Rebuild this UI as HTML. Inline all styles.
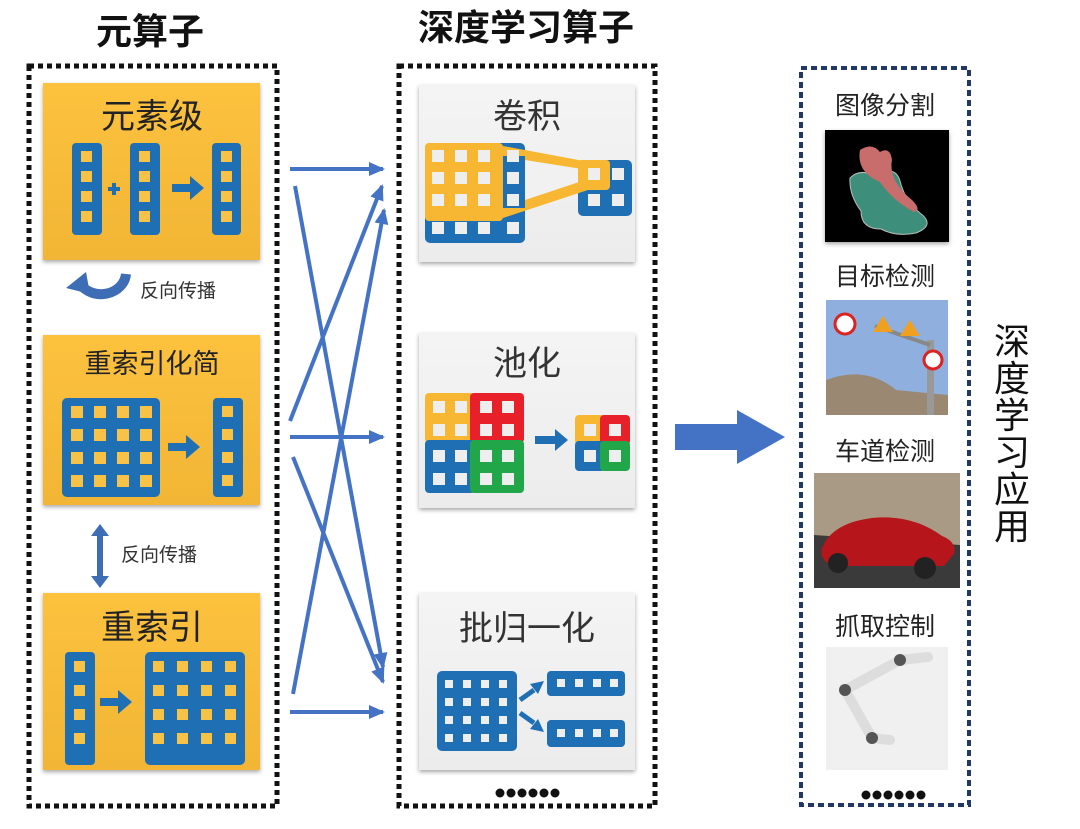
<!DOCTYPE html>
<html><head><meta charset="utf-8"><style>
html,body{margin:0;padding:0;background:#fff;}
svg{display:block;font-family:"Liberation Sans","Noto Sans CJK SC",sans-serif;}
</style></head><body>
<svg width="1080" height="829" viewBox="0 0 1080 829" xmlns="http://www.w3.org/2000/svg">
<defs>
<linearGradient id="gy" x1="0" y1="0" x2="0" y2="1"><stop offset="0" stop-color="#fcc23e"/><stop offset="1" stop-color="#f2b535"/></linearGradient>
<linearGradient id="gg" x1="0" y1="0" x2="0" y2="1"><stop offset="0" stop-color="#f4f4f4"/><stop offset="1" stop-color="#ececec"/></linearGradient>
<marker id="ah" markerWidth="16" markerHeight="14" refX="14" refY="7" orient="auto" markerUnits="userSpaceOnUse"><path d="M0,0 L16,7 L0,14 z" fill="#4472c4"/></marker>
<filter id="sh" x="-5%" y="-5%" width="110%" height="115%"><feDropShadow dx="0" dy="2" stdDeviation="2" flood-color="#000" flood-opacity="0.35"/></filter>
</defs>

<text x="150" y="44" font-size="36" font-weight="bold" text-anchor="middle" fill="#111">元算子</text>
<text x="526" y="40" font-size="36" font-weight="bold" text-anchor="middle" fill="#111">深度学习算子</text>

<rect x="29" y="66" width="248" height="740" fill="none" stroke="#111" stroke-width="5" stroke-dasharray="5 4"/>
<rect x="399" y="66" width="256" height="740" fill="none" stroke="#111" stroke-width="5" stroke-dasharray="5 4"/>
<rect x="801" y="68" width="168" height="737" fill="none" stroke="#1f3864" stroke-width="4" stroke-dasharray="6 4"/>

<g filter="url(#sh)">
<rect x="43" y="83" width="217" height="177" fill="url(#gy)"/>
<rect x="43" y="335" width="217" height="170" fill="url(#gy)"/>
<rect x="43" y="593" width="217" height="177" fill="url(#gy)"/>
</g>
<text x="152" y="128" font-size="34" text-anchor="middle" fill="#222">元素级</text>
<g fill="#1f6fb5">
<rect x="72" y="143" width="30" height="92" rx="4"/>
<rect x="130" y="143" width="30" height="92" rx="4"/>
<rect x="212" y="143" width="29" height="92" rx="4"/>
</g>
<g fill="#f7c245">
<rect x="81" y="151" width="11" height="11"/><rect x="81" y="171" width="11" height="11"/><rect x="81" y="191" width="11" height="11"/><rect x="81" y="211" width="11" height="11"/>
<rect x="139" y="151" width="11" height="11"/><rect x="139" y="171" width="11" height="11"/><rect x="139" y="191" width="11" height="11"/><rect x="139" y="211" width="11" height="11"/>
<rect x="221" y="151" width="11" height="11"/><rect x="221" y="171" width="11" height="11"/><rect x="221" y="191" width="11" height="11"/><rect x="221" y="211" width="11" height="11"/>
</g>
<path d="M108,189 h12 M114,183 v12" stroke="#1f6fb5" stroke-width="4"/>
<path d="M172,184 h18 v-8 l14,12 l-14,12 v-8 h-18 z" fill="#1f6fb5"/>

<path d="M80,284 A25,22 0 0 0 126,274" fill="none" stroke="#3d6db5" stroke-width="10"/>
<path d="M66,288 L86,272 L90,294 Z" fill="#3d6db5"/>
<text x="140" y="297" font-size="19" fill="#333">反向传播</text>

<text x="152" y="373" font-size="27" text-anchor="middle" fill="#222">重索引化简</text>
<rect x="62" y="398" width="98" height="99" rx="5" fill="#1f6fb5"/>
<g fill="#f7c245">
<rect x="71" y="406" width="12" height="12"/><rect x="94" y="406" width="12" height="12"/><rect x="117" y="406" width="12" height="12"/><rect x="140" y="406" width="12" height="12"/>
<rect x="71" y="429" width="12" height="12"/><rect x="94" y="429" width="12" height="12"/><rect x="117" y="429" width="12" height="12"/><rect x="140" y="429" width="12" height="12"/>
<rect x="71" y="452" width="12" height="12"/><rect x="94" y="452" width="12" height="12"/><rect x="117" y="452" width="12" height="12"/><rect x="140" y="452" width="12" height="12"/>
<rect x="71" y="475" width="12" height="12"/><rect x="94" y="475" width="12" height="12"/><rect x="117" y="475" width="12" height="12"/><rect x="140" y="475" width="12" height="12"/>
</g>
<path d="M168,443 h18 v-8 l14,12 l-14,12 v-8 h-18 z" fill="#1f6fb5"/>
<rect x="213" y="398" width="30" height="99" rx="4" fill="#1f6fb5"/>
<g fill="#f7c245"><rect x="222" y="406" width="11" height="11"/><rect x="222" y="429" width="11" height="11"/><rect x="222" y="452" width="11" height="11"/><rect x="222" y="475" width="11" height="11"/></g>

<path d="M100,524 l-9,12 h6 v40 h-6 l9,12 l9,-12 h-6 v-40 h6 z" fill="#3d6db5"/>
<text x="121" y="561" font-size="19" fill="#333">反向传播</text>

<text x="152" y="639" font-size="34" text-anchor="middle" fill="#222">重索引</text>
<rect x="65" y="652" width="30" height="113" rx="4" fill="#1f6fb5"/>
<g fill="#f7c245"><rect x="74" y="661" width="11" height="11"/><rect x="74" y="685" width="11" height="11"/><rect x="74" y="709" width="11" height="11"/><rect x="74" y="733" width="11" height="11"/></g>
<path d="M100,698 h18 v-8 l14,12 l-14,12 v-8 h-18 z" fill="#1f6fb5"/>
<rect x="145" y="652" width="100" height="113" rx="5" fill="#1f6fb5"/>
<g fill="#f7c245">
<rect x="153" y="661" width="11" height="11"/><rect x="177" y="661" width="11" height="11"/><rect x="201" y="661" width="11" height="11"/><rect x="225" y="661" width="11" height="11"/>
<rect x="153" y="685" width="11" height="11"/><rect x="177" y="685" width="11" height="11"/><rect x="201" y="685" width="11" height="11"/><rect x="225" y="685" width="11" height="11"/>
<rect x="153" y="709" width="11" height="11"/><rect x="177" y="709" width="11" height="11"/><rect x="201" y="709" width="11" height="11"/><rect x="225" y="709" width="11" height="11"/>
<rect x="153" y="733" width="11" height="11"/><rect x="177" y="733" width="11" height="11"/><rect x="201" y="733" width="11" height="11"/><rect x="225" y="733" width="11" height="11"/>
</g>

<g stroke="#4472c4" stroke-width="4" fill="none" marker-end="url(#ah)">
<line x1="290" y1="169" x2="383" y2="169"/>
<line x1="295" y1="186" x2="383" y2="667"/>
<line x1="290" y1="421" x2="382" y2="186"/>
<line x1="290" y1="437" x2="383" y2="437"/>
<line x1="293" y1="457" x2="383" y2="682"/>
<line x1="293" y1="694" x2="384" y2="210"/>
<line x1="290" y1="712" x2="383" y2="712"/>
</g>

<g filter="url(#sh)">
<rect x="419" y="85" width="216" height="177" fill="url(#gg)"/>
<rect x="419" y="333" width="216" height="175" fill="url(#gg)"/>
<rect x="419" y="593" width="216" height="177" fill="url(#gg)"/>
</g>
<text x="527" y="128" font-size="34" text-anchor="middle" fill="#333">卷积</text>
<rect x="425" y="143" width="100" height="100" rx="5" fill="#1f6fb5"/>
<rect x="578" y="160" width="54" height="56" rx="5" fill="#1f6fb5"/>
<polygon points="503,146 600,164 600,186 503,218" fill="#f7b733"/>
<polygon points="525,160 582,169 582,181 525,200" fill="#f1f1f1"/>
<rect x="503" y="156" width="22" height="52" fill="#1f6fb5"/>
<rect x="578" y="160" width="32" height="30" rx="4" fill="#f7b733"/>
<rect x="425" y="143" width="78" height="78" rx="4" fill="#f7b733"/>
<g fill="#eee">
<rect x="432" y="150" width="12" height="12"/><rect x="455" y="150" width="12" height="12"/><rect x="478" y="150" width="12" height="12"/><rect x="507" y="150" width="12" height="12"/>
<rect x="432" y="172" width="12" height="12"/><rect x="455" y="172" width="12" height="12"/><rect x="478" y="172" width="12" height="12"/><rect x="507" y="172" width="12" height="12"/>
<rect x="432" y="194" width="12" height="12"/><rect x="455" y="194" width="12" height="12"/><rect x="478" y="194" width="12" height="12"/><rect x="507" y="194" width="12" height="12"/>
<rect x="432" y="222" width="12" height="12"/><rect x="455" y="222" width="12" height="12"/><rect x="478" y="222" width="12" height="12"/><rect x="507" y="222" width="12" height="12"/>
<rect x="588" y="168" width="12" height="12"/><rect x="612" y="168" width="12" height="12"/><rect x="588" y="194" width="12" height="12"/><rect x="612" y="194" width="12" height="12"/>
</g>

<text x="527" y="375" font-size="34" text-anchor="middle" fill="#333">池化</text>
<rect x="425" y="393" width="50" height="50" rx="4" fill="#f7b733"/>
<rect x="470" y="393" width="54" height="50" rx="4" fill="#e8202a"/>
<rect x="425" y="440" width="50" height="53" rx="4" fill="#1f6fb5"/>
<rect x="470" y="440" width="54" height="53" rx="4" fill="#21a64a"/>
<g fill="#eee">
<rect x="433" y="401" width="12" height="12"/><rect x="455" y="401" width="12" height="12"/><rect x="480" y="401" width="12" height="12"/><rect x="502" y="401" width="12" height="12"/>
<rect x="433" y="424" width="12" height="12"/><rect x="455" y="424" width="12" height="12"/><rect x="480" y="424" width="12" height="12"/><rect x="502" y="424" width="12" height="12"/>
<rect x="433" y="450" width="12" height="12"/><rect x="455" y="450" width="12" height="12"/><rect x="480" y="450" width="12" height="12"/><rect x="502" y="450" width="12" height="12"/>
<rect x="433" y="473" width="12" height="12"/><rect x="455" y="473" width="12" height="12"/><rect x="480" y="473" width="12" height="12"/><rect x="502" y="473" width="12" height="12"/>
</g>
<path d="M535,436 h20 v-7 l13,11 l-13,11 v-7 h-20 z" fill="#1f6fb5"/>
<rect x="575" y="415" width="30" height="30" rx="4" fill="#f7b733"/>
<rect x="600" y="415" width="30" height="30" rx="4" fill="#e8202a"/>
<rect x="575" y="441" width="30" height="30" rx="4" fill="#1f6fb5"/>
<rect x="600" y="441" width="30" height="30" rx="4" fill="#21a64a"/>
<g fill="#eee"><rect x="584" y="424" width="12" height="12"/><rect x="609" y="424" width="12" height="12"/><rect x="584" y="450" width="12" height="12"/><rect x="609" y="450" width="12" height="12"/></g>

<text x="527" y="640" font-size="34" text-anchor="middle" fill="#333">批归一化</text>
<rect x="437" y="671" width="80" height="80" rx="5" fill="#1f6fb5"/>
<g fill="#eee">
<rect x="445" y="680" width="8" height="8"/><rect x="463" y="680" width="8" height="8"/><rect x="481" y="680" width="8" height="8"/><rect x="499" y="680" width="8" height="8"/>
<rect x="445" y="698" width="8" height="8"/><rect x="463" y="698" width="8" height="8"/><rect x="481" y="698" width="8" height="8"/><rect x="499" y="698" width="8" height="8"/>
<rect x="445" y="716" width="8" height="8"/><rect x="463" y="716" width="8" height="8"/><rect x="481" y="716" width="8" height="8"/><rect x="499" y="716" width="8" height="8"/>
<rect x="445" y="734" width="8" height="8"/><rect x="463" y="734" width="8" height="8"/><rect x="481" y="734" width="8" height="8"/><rect x="499" y="734" width="8" height="8"/>
</g>
<g stroke="#1f6fb5" stroke-width="5"><line x1="520" y1="700" x2="534" y2="690"/><line x1="520" y1="713" x2="534" y2="723"/></g>
<path d="M530,684 l14,-3 l-6,13 z M530,729 l14,3 l-6,-13 z" fill="#1f6fb5"/>
<rect x="547" y="671" width="78" height="25" rx="4" fill="#1f6fb5"/>
<rect x="547" y="720" width="78" height="27" rx="4" fill="#1f6fb5"/>
<g fill="#eee">
<rect x="557" y="679" width="8" height="8"/><rect x="575" y="679" width="8" height="8"/><rect x="593" y="679" width="8" height="8"/><rect x="610" y="679" width="8" height="8"/>
<rect x="557" y="729" width="8" height="8"/><rect x="575" y="729" width="8" height="8"/><rect x="593" y="729" width="8" height="8"/><rect x="610" y="729" width="8" height="8"/>
</g>
<g fill="#111"><circle cx="500" cy="793" r="4.5"/><circle cx="511" cy="793" r="4.5"/><circle cx="522" cy="793" r="4.5"/><circle cx="533" cy="793" r="4.5"/><circle cx="544" cy="793" r="4.5"/><circle cx="555" cy="793" r="4.5"/></g>

<path d="M675,424 h62 v-14 l48,27 l-48,27 v-14 h-62 z" fill="#4472c4"/>

<text x="885" y="114" font-size="25" text-anchor="middle" fill="#222">图像分割</text>
<rect x="825" y="130" width="124" height="112" fill="#000" filter="url(#sh)"/>
<path d="M850,178 q10,-10 25,-2 q20,-12 25,5 q5,20 20,32 q16,12 -4,20 q-20,4 -35,-4 q-20,0 -20,-18 q-12,-16 -11,-33 z" fill="#3d8f7c" stroke="#bbb" stroke-width="1"/>
<path d="M860,150 q12,-8 20,2 q10,-6 12,8 q-4,20 20,40 q10,10 2,12 q-22,-12 -34,-30 q-24,-10 -20,-32 z" fill="#c86c6c"/>
<text x="885" y="285" font-size="25" text-anchor="middle" fill="#222">目标检测</text>
<rect x="826" y="300" width="122" height="115" fill="#8fb0de"/>
<path d="M826,380 q40,-15 70,10 l52,5 v20 h-122 z" fill="#9a8873"/>
<rect x="927" y="340" width="7" height="75" fill="#999"/>
<line x1="875" y1="326" x2="930" y2="345" stroke="#888" stroke-width="4"/>
<circle cx="845" cy="324" r="10" fill="#fff" stroke="#d22" stroke-width="3"/>
<polygon points="873,332 883,316 893,332" fill="#f0a020"/><polygon points="900,336 910,320 920,336" fill="#f0a020"/>
<circle cx="933" cy="360" r="9" fill="#fff" stroke="#d22" stroke-width="3"/>
<text x="885" y="460" font-size="25" text-anchor="middle" fill="#222">车道检测</text>
<rect x="814" y="473" width="146" height="115" fill="#a89a84"/>
<path d="M814,535 l146,10 v43 h-146 z" fill="#3a3a3a"/>
<path d="M822,548 q10,-25 50,-30 q40,-4 70,18 q15,6 12,18 l-10,12 h-110 q-15,-5 -12,-18 z" fill="#b5151b"/>
<circle cx="838" cy="563" r="10" fill="#222"/><circle cx="925" cy="568" r="11" fill="#222"/>
<text x="885" y="635" font-size="25" text-anchor="middle" fill="#222">抓取控制</text>
<rect x="826" y="647" width="122" height="123" fill="#f0f0f0"/>
<g stroke="#ddd" stroke-width="10" stroke-linecap="round" fill="none"><path d="M845,690 L900,660 L928,657"/><path d="M845,690 L872,738 L890,740"/></g>
<g fill="#555"><circle cx="845" cy="690" r="6"/><circle cx="900" cy="660" r="6"/><circle cx="872" cy="738" r="6"/></g>
<g fill="#111"><circle cx="866" cy="795" r="4.5"/><circle cx="877" cy="795" r="4.5"/><circle cx="888" cy="795" r="4.5"/><circle cx="899" cy="795" r="4.5"/><circle cx="910" cy="795" r="4.5"/><circle cx="921" cy="795" r="4.5"/></g>

<g font-size="36" fill="#111" text-anchor="middle">
<text x="1012" y="354">深</text><text x="1012" y="391">度</text><text x="1012" y="428">学</text><text x="1012" y="465">习</text><text x="1012" y="502">应</text><text x="1012" y="539">用</text>
</g>
</svg>
</body></html>
